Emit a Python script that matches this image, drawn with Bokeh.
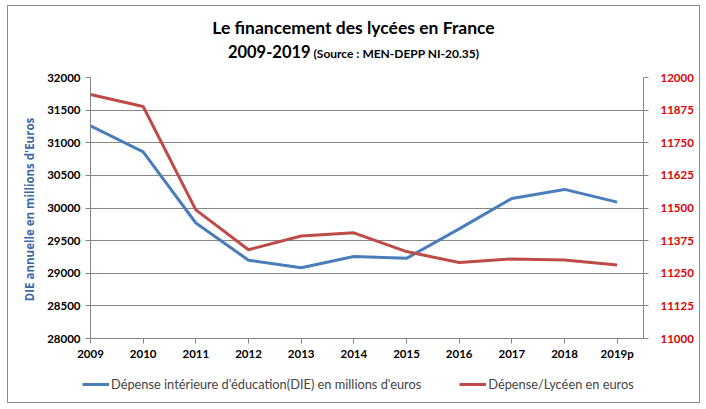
from bokeh.plotting import figure
from bokeh.layouts import column
from bokeh.models import (Range1d, LinearAxis, FixedTicker, Legend, LegendItem,
                          ColumnDataSource, Div)
from bokeh.embed import file_html
from bokeh.resources import INLINE

# data
years = ["2009", "2010", "2011", "2012", "2013", "2014", "2015", "2016", "2017", "2018", "2019p"]
die = [31260, 30860, 29770, 29200, 29085, 29258, 29228, 29680, 30145, 30285, 30090]
par_lyceen = [11935, 11889, 11493, 11340, 11393, 11405, 11333, 11291, 11305, 11301, 11282]

left_ticks = [28000, 28500, 29000, 29500, 30000, 30500, 31000, 31500, 32000]
right_ticks = [11000, 11125, 11250, 11375, 11500, 11625, 11750, 11875, 12000]

FONT = "Lato"
GRID = "#868686"
BLUE = "#4A7EBB"
RED = "#BE4B48"

xs = list(range(len(years)))
src = ColumnDataSource(data=dict(x=xs, die=die, lyc=par_lyceen))

title = Div(width=691, height=56, margin=0,
            text='<div style="width:691px;text-align:center;font-family:Lato;font-weight:bold;'
                 'color:black;padding-top:10px;line-height:23px">'
                 '<span style="font-size:17.5px">Le financement des lycées en France</span><br>'
                 '<span style="font-size:16.5px">2009-2019</span> '
                 '<span style="font-size:12px">(Source : MEN-DEPP NI-20.35)</span></div>')

p = figure(width=691, height=306, output_backend="svg", toolbar_location=None,
           x_range=Range1d(0, 10.5), y_range=Range1d(28000, 32000),
           min_border_left=82, min_border_right=56, min_border_top=15, min_border_bottom=30,
           margin=0)
p.outline_line_color = None
p.xgrid.grid_line_color = None
p.ygrid.grid_line_color = GRID
p.ygrid.grid_line_width = 1

p.extra_y_ranges = {"lyc": Range1d(11000, 12000)}

# left axis
p.yaxis.ticker = FixedTicker(ticks=left_ticks)
p.yaxis.axis_label = "DIE annuelle  en millions d'Euros"
p.yaxis.axis_label_text_color = "#3b6aa6"
p.yaxis.axis_label_text_font = "Open Sans"
p.yaxis.axis_label_text_font_size = "11.5px"
p.yaxis.axis_label_text_font_style = "bold"
p.yaxis.axis_label_standoff = 7

# bottom axis
p.xaxis.ticker = FixedTicker(ticks=xs)
p.xaxis.major_label_overrides = {i: y for i, y in enumerate(years)}

ry = LinearAxis(y_range_name="lyc", ticker=FixedTicker(ticks=right_ticks))
p.add_layout(ry, "right")

for ax in [p.xaxis[0], p.yaxis[0], ry]:
    ax.axis_line_color = GRID
    ax.major_tick_line_color = GRID
    ax.major_tick_out = 5
    ax.major_tick_in = 0
    ax.minor_tick_line_color = None
    ax.major_label_text_font = FONT
    ax.major_label_text_font_size = "11.5px"
    ax.major_label_text_font_style = "bold"
    ax.major_label_text_color = "black"
    ax.major_label_standoff = 5
ry.major_label_text_color = "#E00000"
ry.major_label_standoff = 12
p.xaxis.major_label_standoff = 3

p.line("x", "die", source=src, line_color=BLUE, line_width=3)
p.line("x", "lyc", source=src, line_color=RED, line_width=3, y_range_name="lyc")

# legend strip in its own small figure (lines fall outside its range, only the keys show)
lg = figure(width=691, height=34, output_backend="svg", toolbar_location=None,
            x_axis_type=None, y_axis_type=None, min_border=0, margin=0,
            x_range=Range1d(0, 1), y_range=Range1d(0, 1))
lg.frame_align = False
lg.outline_line_color = None
lg.grid.grid_line_color = None
k1 = lg.line("x", "die", source=src, line_color=BLUE, line_width=3)
k2 = lg.line("x", "lyc", source=src, line_color=RED, line_width=3)
legend = Legend(items=[LegendItem(label="Dépense intérieure d'éducation(DIE) en millions d'euros", renderers=[k1]),
                       LegendItem(label="Dépense/Lycéen en euros", renderers=[k2])],
                orientation="horizontal", location=(74, 10), padding=0, margin=0,
                glyph_width=27, glyph_height=16, label_height=16, label_standoff=2, spacing=38,
                border_line_color=None, background_fill_alpha=0,
                label_text_font=FONT, label_text_font_size="12.8px",
                label_text_baseline="middle")
lg.add_layout(legend, "center")

layout = column(title, p, lg, margin=(5, 0, 0, 7), spacing=0,
                styles={"border": "1px solid #8c8c8c", "background": "white"})

open("out.html", "w").write(file_html(layout, INLINE))
